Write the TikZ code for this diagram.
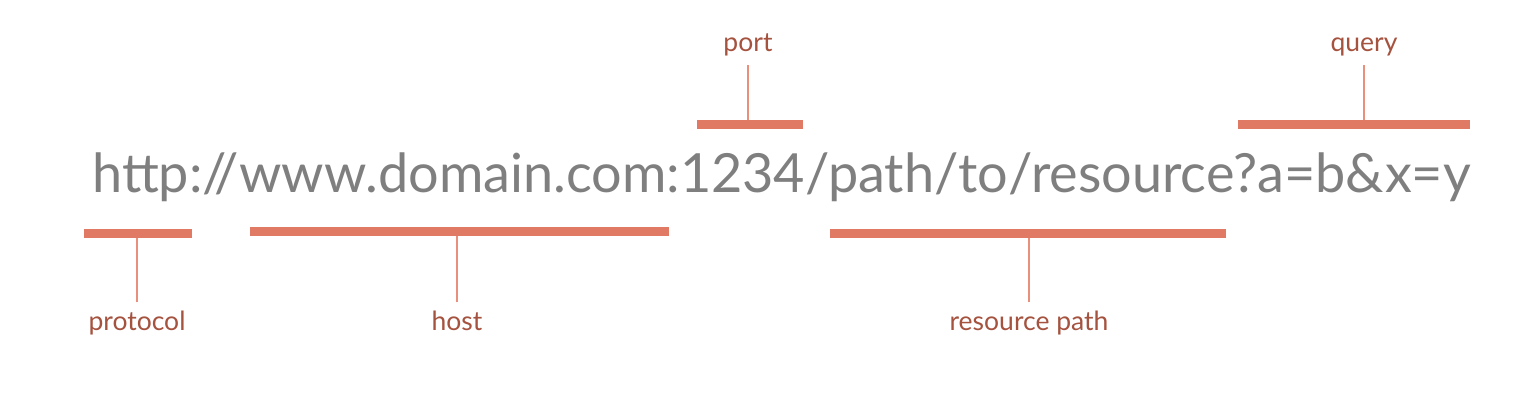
\documentclass[tikz,border=0pt]{standalone}
\usepackage{fontspec}
\setmainfont{Lato}
\usepackage{graphicx}
\definecolor{urlgray}{HTML}{7F7F7F}
\definecolor{barred}{HTML}{E07A64}
\definecolor{linered}{HTML}{E8907C}
\definecolor{labred}{HTML}{A5523F}
\tikzset{
  bar/.style={fill=barred, draw=none, inner sep=0pt, minimum height=9pt},
  lab/.style={text=labred, font=\fontsize{26.5}{28}\selectfont, inner sep=0pt, outer ysep=8pt},
  conn/.style={draw=linered, line width=1.2pt},
}
\begin{document}
\begin{tikzpicture}[x=1pt,y=-1pt]
\useasboundingbox[fill=white] (0,0) rectangle (1520,404);
\node[anchor=base west, inner sep=0pt, text=urlgray] (url) at (92,192)
  {\resizebox{1378pt}{!}{http://www.domain.com:1234/path/to/resource?a=b\&x=y}};
% top bars
\node[bar, minimum width=106pt] (portbar) at (750,124.5) {};
\node[bar, minimum width=232pt] (querybar) at (1354,124.5) {};
\node[lab, anchor=base] (portlab) at (748,52) {port};
\node[lab, anchor=base] (querylab) at (1364,52) {query};
\draw[conn] (portlab.south) -- (portlab.south |- portbar.north);
\draw[conn] (querylab.south) -- (querylab.south |- querybar.north);
% bottom bars
\node[bar, minimum width=108pt] (protbar) at (138,233) {};
\node[bar, minimum width=419pt] (hostbar) at (459.5,231) {};
\node[bar, minimum width=396pt] (pathbar) at (1028,233) {};
\node[lab, anchor=base] (protlab) at (137,330) {protocol};
\node[lab, anchor=base] (hostlab) at (457,330) {host};
\node[lab, anchor=base] (pathlab) at (1029,330) {resource path};
\draw[conn] (protlab.north) -- (protlab.north |- protbar.south);
\draw[conn] (hostlab.north) -- (hostlab.north |- hostbar.south);
\draw[conn] (pathlab.north) -- (pathlab.north |- pathbar.south);
\end{tikzpicture}
\end{document}
